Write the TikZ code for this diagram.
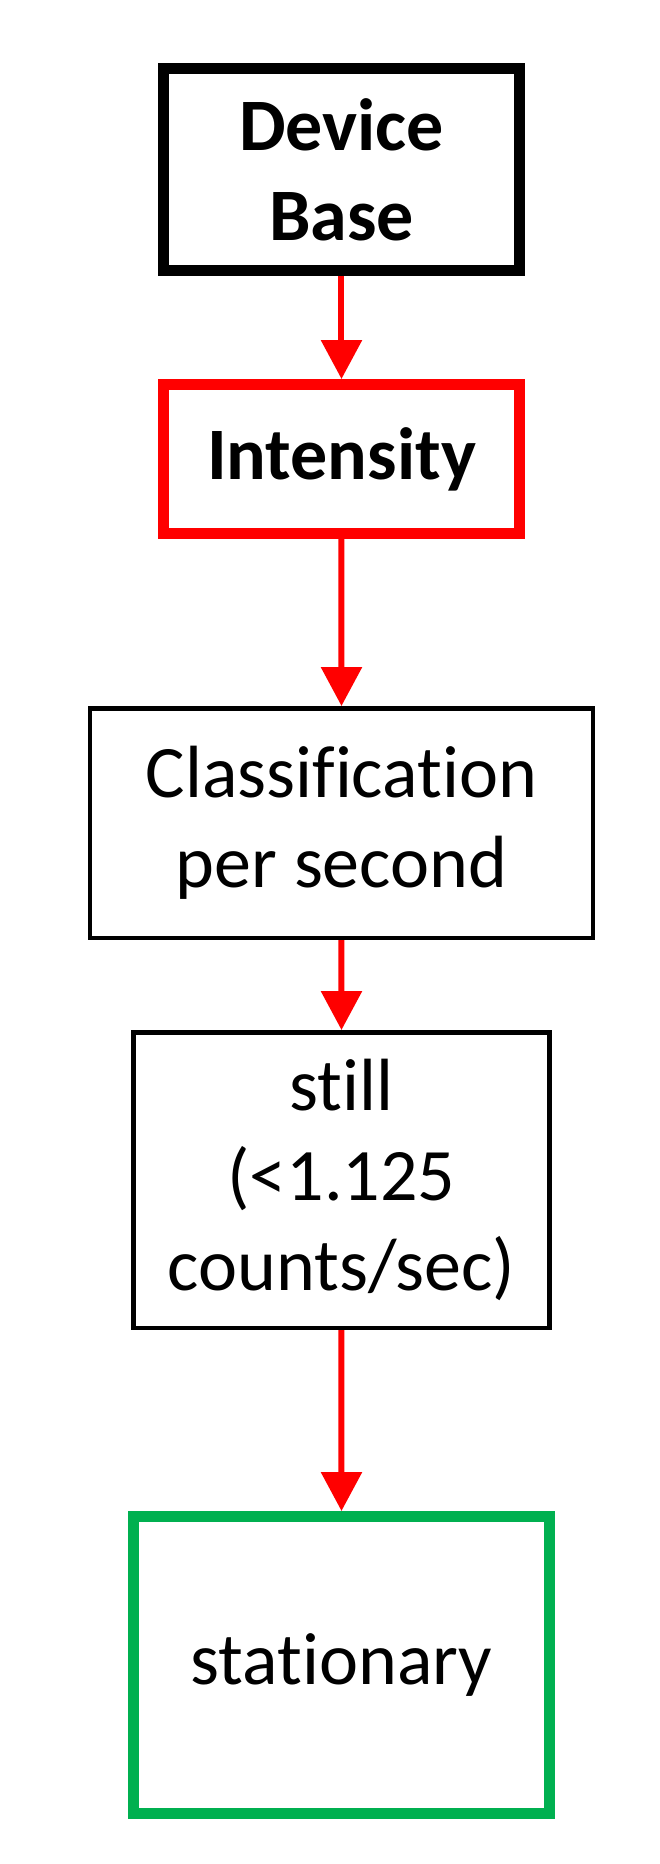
\documentclass[tikz,border=0pt]{standalone}
\usepackage{fontspec}
\setmainfont[Ligatures=CommonOff]{Carlito}
\usepackage{xcolor}
\usetikzlibrary{shapes,arrows.meta}
\definecolor{boxgreen}{RGB}{0,176,80}

\begin{document}
\begin{tikzpicture}
\tikzstyle{level 1} = [level distance = 144.75pt]
\tikzstyle{level 2} = [level distance = 182pt]
\tikzstyle{level 3} = [level distance = 178.5pt]
\tikzstyle{level 4} = [level distance = 242.5pt]
\tikzstyle{box} = [rectangle, draw = black, line width = 2.25pt, align = center, inner sep = 0pt, font = \fontsize{37}{45}\selectfont]
\tikzstyle{thickbox} = [box, line width = 5.5pt]
\tikzstyle{boldbox} = [thickbox, font = \fontsize{37}{45}\selectfont\bfseries]
\tikzstyle{edge from parent} = [draw = red, line width = 3pt, -{Triangle[width = 20pt, length = 19.5pt]}]
\useasboundingbox (-170.75pt,84.75pt) rectangle (158.75pt,-847.25pt);
\node[boldbox, minimum width = 178pt, minimum height = 101pt] (base) {Device\\Base}
	child {node[boldbox, draw = red, minimum width = 178pt, minimum height = 74.5pt] (intensity) {Intensity}
		child {node[box, minimum width = 251.25pt, minimum height = 114.75pt] (classify) {Classification\\per second}
			child {node[box, minimum width = 207.75pt, minimum height = 147.75pt] (still) {still\\(<1.125\\counts/sec)}
				child {node[thickbox, draw = boxgreen, minimum width = 208pt, minimum height = 148.5pt] (stationary) {stationary}}
			}
		}
	};
\end{tikzpicture}
\end{document}
